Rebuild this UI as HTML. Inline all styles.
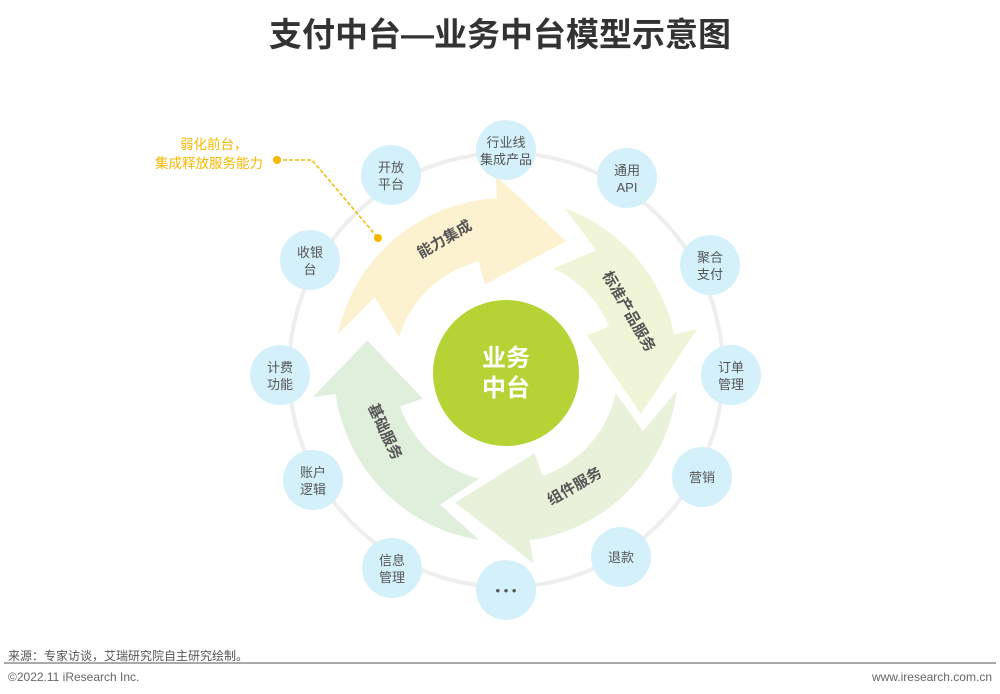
<!DOCTYPE html>
<html><head><meta charset="utf-8">
<style>
body{margin:0;background:#fff;}
#w{position:relative;width:1000px;height:694px;overflow:hidden;font-family:"Liberation Sans","Noto Sans CJK SC",sans-serif;}
.t{position:absolute;white-space:nowrap;}
</style></head><body><div id="w">
<div class="t" style="left:0;width:1000px;top:12px;text-align:center;font-size:33px;font-weight:bold;color:#333;line-height:46px;">支付中台—业务中台模型示意图</div>
<svg id="s" width="1000" height="694" style="position:absolute;left:0;top:0" font-family="Liberation Sans, Noto Sans CJK SC, sans-serif"></svg>
<div class="t" style="left:180px;top:133px;font-size:13.5px;color:#f5b800;">弱化前台，</div>
<div class="t" style="left:155px;top:152px;font-size:13.5px;color:#f5b800;">集成释放服务能力</div>
<div class="t" style="left:8px;top:647px;font-size:12px;color:#555;">来源：专家访谈，艾瑞研究院自主研究绘制。</div>
<div style="position:absolute;left:4px;top:662px;width:992px;height:2px;background:#aaa;"></div>
<div class="t" style="left:8px;top:670px;font-size:12px;color:#666;">©2022.11 iResearch Inc.</div>
<div class="t" style="right:8px;top:670px;font-size:12px;color:#666;">www.iresearch.com.cn</div>
</div>
<script>
var cx=506,cy=370,s=document.getElementById('s'),h='';
function P(a,r){var t=a*Math.PI/180;return (cx+r*Math.sin(t)).toFixed(1)+','+(cy-r*Math.cos(t)).toFixed(1);}
h+='<circle cx="506" cy="370" r="217" fill="none" stroke="#eeeeee" stroke-width="4"/>';
var A=[[-78,-3,25,'#fdf2cf'],[20,78,108,'#f0f5d7'],[97,172,201,'#e8f2da'],[189,262,282,'#e0efdc']];
A.forEach(function(a){var t=a[0],hb=a[1],tp=a[2],pts=[];
for(var g=t;g<=hb;g+=2)pts.push(P(g,172));
pts.push(P(hb,172));pts.push(P(hb,195));pts.push(P(tp,142));pts.push(P(hb-11,88));pts.push(P(hb-11,112));
for(var g=hb-11;g>=t+5;g-=2)pts.push(P(g,112));
pts.push(P(t+5,112));pts.push(P(t+17,150));
h+='<polygon points="'+pts.join(' ')+'" fill="'+a[3]+'"/>';});
h+='<circle cx="506" cy="373" r="73" fill="#b5d334"/>';
h+='<text x="506" y="366" text-anchor="middle" font-size="24" font-weight="bold" fill="#fff">业务</text><text x="506" y="396" text-anchor="middle" font-size="24" font-weight="bold" fill="#fff">中台</text>';
var L=[['能力集成',445,240,-30],['标准产品服务',628,312,60],['组件服务',575,487,-30],['基础服务',384,432,65]];
L.forEach(function(l){h+='<text x="'+l[1]+'" y="'+l[2]+'" transform="rotate('+l[3]+' '+l[1]+' '+l[2]+')" text-anchor="middle" dominant-baseline="middle" font-size="15" font-weight="bold" fill="#555">'+l[0]+'</text>';});
var N=[['开放','平台',391,175],['行业线','集成产品',506,150],['通用','API',627,178],['聚合','支付',710,265],['订单','管理',731,375],['营销','',702,477],['退款','',621,557],['• • •','',506,590],['信息','管理',392,568],['账户','逻辑',313,480],['计费','功能',280,375],['收银','台',310,260]];
N.forEach(function(n){h+='<circle cx="'+n[2]+'" cy="'+n[3]+'" r="30" fill="#d4f1fb"/>';
if(n[1]){h+='<text x="'+n[2]+'" y="'+(n[3]-3)+'" text-anchor="middle" font-size="13" fill="#555">'+n[0]+'</text><text x="'+n[2]+'" y="'+(n[3]+14)+'" text-anchor="middle" font-size="13" fill="#555">'+n[1]+'</text>';}
else h+='<text x="'+n[2]+'" y="'+(n[3]+5)+'" text-anchor="middle" font-size="13" fill="#555">'+n[0]+'</text>';});
h+='<polyline points="277,160 312,160 378,238" fill="none" stroke="#f5b800" stroke-width="1.5" stroke-dasharray="4,2"/><circle cx="277" cy="160" r="4" fill="#f5b800"/><circle cx="378" cy="238" r="4" fill="#f5b800"/>';
s.innerHTML=h;
</script>
</body></html>
